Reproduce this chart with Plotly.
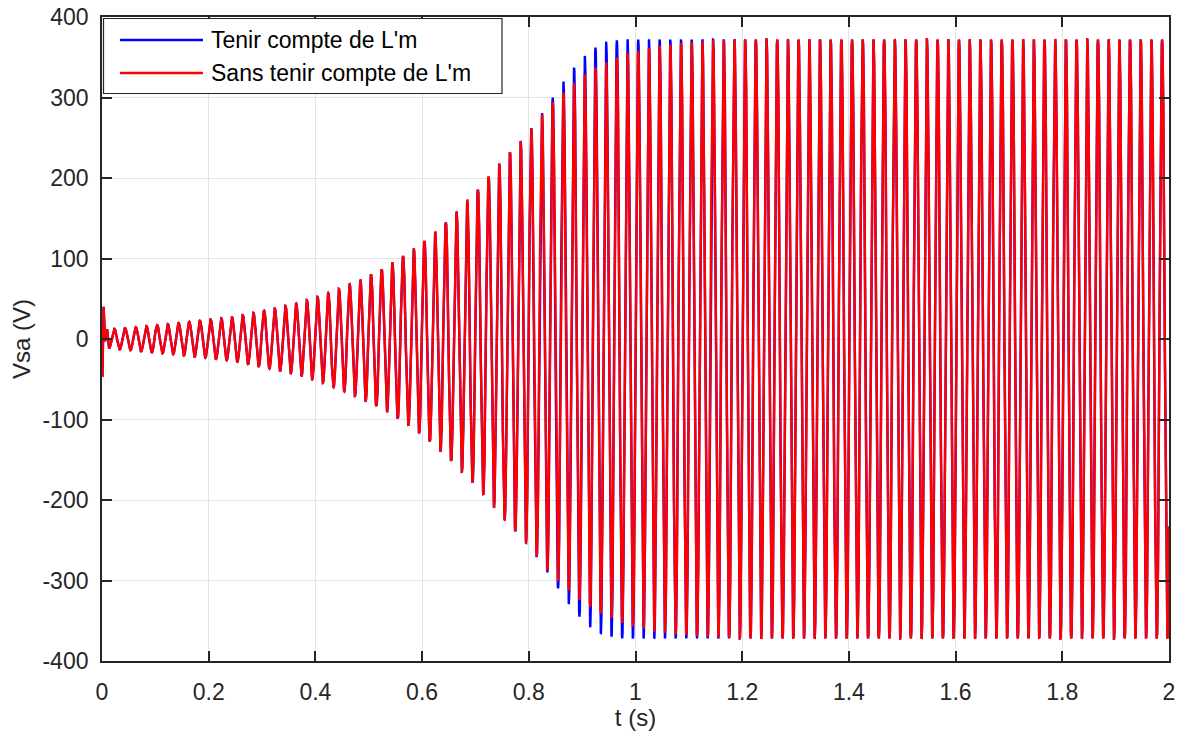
import numpy as np
import plotly.graph_objects as go

# ---------------- data ----------------
# start-up transient (s, V)
start_t = [0.0, 0.0008, 0.003, 0.0058, 0.0096, 0.0132]
start_v = [0.0, -47.0, 40.0, -3.0, 12.0, -11.5]

# peak-amplitude envelope common to both curves (s, V)
env_t_common = [0.0132, 0.0232, 0.044, 0.083, 0.124, 0.164, 0.2045, 0.244, 0.284,
                0.324, 0.364, 0.4045, 0.445, 0.485, 0.5243, 0.5645, 0.605, 0.645,
                0.70, 0.75]
env_a_common = [11.5, 12.6, 13.4, 15.9, 18.4, 21.3, 24.2, 27.0, 32.5,
                37.9, 44.0, 52.4, 62.4, 73.9, 86.6, 103.0, 122.0, 145.0,
                182.0, 222.0]

# envelope after the curves separate
env_t_blue = [0.795, 0.815, 0.835, 0.855, 0.875, 0.895, 0.915, 0.935, 0.956, 0.976, 2.0]
env_a_blue = [253, 271, 290, 310, 329, 345, 358, 366, 370, 372, 372]

env_t_red = [0.795, 0.815, 0.835, 0.855, 0.875, 0.895, 0.915, 0.935, 0.956, 0.976,
             0.996, 1.016, 1.036, 1.056, 1.076, 1.096, 1.116, 1.14, 1.2, 2.0]
env_a_red = [253, 270, 287, 301, 312, 324, 333, 341, 347, 353,
             357, 360, 363, 365, 367, 368, 369, 370, 372, 372]

freq_hz = 49.9          # measured peak spacing
first_peak_t = 0.0232   # time of first regular positive peak

x_ticks = [0, 0.2, 0.4, 0.6, 0.8, 1, 1.2, 1.4, 1.6, 1.8, 2]
y_ticks = [-400, -300, -200, -100, 0, 100, 200, 300, 400]

names = ["Tenir compte de L'm", "Sans tenir compte de L'm"]
colors = ["#0000FF", "#FF0000"]

# ---------------- build waveforms ----------------
t_wave = np.arange(start_t[-1], 2.0 + 1e-9, 0.0001)


def waveform(env_t, env_a):
    env = np.interp(t_wave, env_t, env_a)
    v = env * np.cos(2 * np.pi * freq_hz * (t_wave - first_peak_t))
    t = np.concatenate([start_t[:-1], t_wave])
    y = np.concatenate([start_v[:-1], v])
    return t, y


t_b, v_b = waveform(env_t_common + env_t_blue, env_a_common + env_a_blue)
t_r, v_r = waveform(env_t_common + env_t_red, env_a_common + env_a_red)

fig = go.Figure()
fig.add_trace(go.Scatter(x=t_b, y=v_b, mode="lines", name=names[0],
                         line=dict(color=colors[0], width=2.4), showlegend=False))
fig.add_trace(go.Scatter(x=t_r, y=v_r, mode="lines", name=names[1],
                         line=dict(color=colors[1], width=2.4), showlegend=False))

# page body adds an 8 px margin, so the figure is placed at (8, 8)
OFF = 8
W, H = 1183 - OFF, 735 - OFF
ML, MR, MT, MB = 102 - OFF, 14, 17 - OFF, 74
PW, PH = W - ML - MR, H - MT - MB


def px(x):  # page pixel -> paper
    return (x - OFF - ML) / PW


def py(y):
    return (OFF + H - MB - y) / PH


axis_common = dict(
    showline=True, linecolor="#262626", linewidth=1.8, mirror="ticks",
    ticks="inside", ticklen=10, tickwidth=1.8, tickcolor="#262626",
    showgrid=True, gridcolor="#e3e3e3", gridwidth=1, zeroline=False,
    automargin=False, ticklabeloverflow="allow",
    tickfont=dict(family="Liberation Sans, Arial", size=23, color="#262626"),
)

fig.update_layout(
    width=W, height=H,
    margin=dict(l=ML, r=MR, t=MT, b=MB, autoexpand=False),
    paper_bgcolor="white", plot_bgcolor="white",
    font=dict(family="Liberation Sans, Arial", color="#262626"),
    xaxis=dict(range=[0, 2], tickvals=x_ticks,
               ticktext=[f"{v:g}" for v in x_ticks],
               ticklabelstandoff=9,
               title=dict(text="t (s)", font=dict(size=24, color="#262626"), standoff=0),
               **axis_common),
    yaxis=dict(range=[-400, 400], tickvals=y_ticks,
               ticktext=[f"{v:g}" for v in y_ticks],
               ticklabelstandoff=7,
               title=dict(text="Vsa (V)", font=dict(size=24, color="#262626"), standoff=10),
               **axis_common),
)

# legend box (drawn as MATLAB-style legend)
fig.add_shape(type="rect", xref="paper", yref="paper",
              x0=px(103.5), x1=px(502), y0=py(93.5), y1=py(18.5),
              line=dict(color="#262626", width=1.2), fillcolor="white", layer="above")
for i, yy in enumerate([40, 73]):
    fig.add_shape(type="line", xref="paper", yref="paper",
                  x0=px(120), x1=px(203), y0=py(yy), y1=py(yy),
                  line=dict(color=colors[i], width=2.4), layer="above")
    fig.add_annotation(xref="paper", yref="paper", x=px(209), y=py(yy),
                       text=names[i], showarrow=False, xanchor="left", yanchor="middle",
                       font=dict(family="Liberation Sans, Arial", size=23, color="black"))

fig.write_html("out.html")
